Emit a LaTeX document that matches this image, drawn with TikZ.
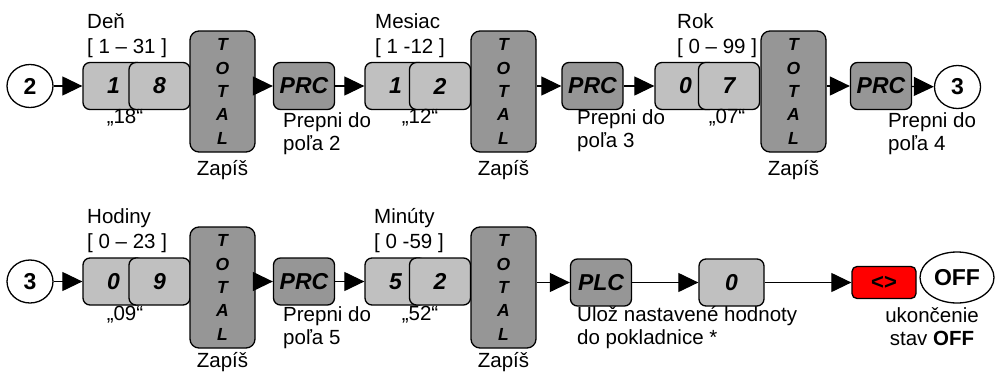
\documentclass[tikz,border=0pt]{standalone}
\usepackage{fontspec}
\setmainfont{Liberation Sans}
\usetikzlibrary{arrows.meta,positioning,shapes.geometric}
\definecolor{keylight}{HTML}{C0C0C0}
\definecolor{keydark}{HTML}{969696}

\begin{document}
\begin{tikzpicture}[x=1pt, y=-1pt,
  lbl/.style={font=\fontsize{20.5}{23}\selectfont, inner sep=0pt},
  key/.style={draw, line width=1.3pt, rounded corners=7pt, fill=keylight, minimum width=61pt, minimum height=47pt, inner sep=0pt, font=\fontsize{23}{26}\selectfont\bfseries\itshape},
  keyd/.style={key, fill=keydark},
  totalkey/.style={keyd, minimum width=65pt, minimum height=121pt, rounded corners=9pt, align=center, font=\fontsize{17.5}{23.3}\selectfont\bfseries\itshape},
  conn/.style={draw, ellipse, line width=1.3pt, fill=white, minimum width=46pt, minimum height=43pt, inner sep=0pt, font=\fontsize{23}{26}\selectfont\bfseries},
  arr/.style={-{Triangle[length=20pt,width=19pt]}, line width=1.2pt}]
\useasboundingbox (0,0) rectangle (995,372);

% row 1: datum
\node[conn] (c2) at (30,86) {2};
\node[key] (dA1) at (113.5,86) {1};
\node[key] (dA2) at (159.5,86) {8};
\node[totalkey] (totA) at (222.5,91.5) {T\\O\\T\\A\\L};
\node[keyd] (prcA) at (304,86) {PRC};
\node[key] (mB1) at (395.5,86) {1};
\node[key] (mB2) at (440,86) {2};
\node[totalkey] (totB) at (503.5,91.5) {T\\O\\T\\A\\L};
\node[keyd] (prcB) at (592.5,86) {PRC};
\node[key] (yC1) at (685.5,86) {0};
\node[key] (yC2) at (729,86) {7};
\node[totalkey] (totC) at (793.5,91.5) {T\\O\\T\\A\\L};
\node[keyd] (prcC) at (881,86) {PRC};
\node[conn] (c3a) at (957.5,87) {3};

\draw[arr] (c2) -- (dA1);
\draw[arr] (totA.east |- prcA) -- (prcA);
\draw[arr] (prcA) -- (mB1);
\draw[arr] (totB.east |- prcB) -- (prcB);
\draw[arr] (prcB) -- (yC1);
\draw[arr] (totC.east |- prcC) -- (prcC);
\draw[arr] (prcC) -- (c3a);

\node[lbl, anchor=west, align=left] (lDen) at (87,35.5) {Deň\\[2pt]{[ 1 – 31 ]}};
\node[lbl] (qA) at (125,118) {„18“};
\node[lbl, below=8pt of totA] (zA) {Zapíš};
\node[lbl, anchor=west, align=left] (pA) at (283,133.5) {Prepni do\\poľa 2};
\node[lbl, anchor=west, align=left] (lMes) at (375,35.5) {Mesiac\\[2pt]{[ 1 -12 ]}};
\node[lbl] (qB) at (420,118) {„12“};
\node[lbl, below=8pt of totB] (zB) {Zapíš};
\node[lbl, anchor=west, align=left] (pB) at (577,131) {Prepni do\\poľa 3};
\node[lbl, anchor=west, align=left] (lRok) at (677,35.5) {Rok\\[2pt]{[ 0 – 99 ]}};
\node[lbl] (qC) at (727,118) {„07“};
\node[lbl, below=8pt of totC] (zC) {Zapíš};
\node[lbl, anchor=west, align=left] (pC) at (888,133.5) {Prepni do\\poľa 4};

% row 2: cas
\node[conn] (c3b) at (30,281.5) {3};
\node[key] (hA1) at (113.5,281.5) {0};
\node[key] (hA2) at (159.5,281.5) {9};
\node[totalkey] (totH) at (222.5,287.5) {T\\O\\T\\A\\L};
\node[keyd] (prcH) at (304,281.5) {PRC};
\node[key] (nB1) at (395.5,281.5) {5};
\node[key] (nB2) at (440,281.5) {2};
\node[totalkey] (totN) at (503.5,287.5) {T\\O\\T\\A\\L};
\node[keyd] (plc) at (601,282.5) {PLC};
\node[key, minimum width=65pt] (zero) at (731.5,282.5) {0};
\node[key, fill=red, minimum width=64pt, minimum height=32pt, rounded corners=5pt, font=\fontsize{22}{24}\selectfont\bfseries] (clr) at (884,282.5) {\raisebox{-3pt}{<>}};
\node[conn, minimum width=74pt, minimum height=51pt] (off) at (957,277.5) {OFF};

\draw[arr] (c3b) -- (hA1);
\draw[arr] (totH.east |- prcH) -- (prcH);
\draw[arr] (prcH) -- (nB1);
\draw[arr] (totN.east |- plc) -- (plc);
\draw[arr] (plc) -- (zero);
\draw[arr] (zero) -- (clr);

\node[lbl, anchor=west, align=left] (lHod) at (87,230.5) {Hodiny\\[2pt]{[ 0 – 23 ]}};
\node[lbl] (qH) at (125,315) {„09“};
\node[lbl, below=4pt of totH] (zH) {Zapíš};
\node[lbl, anchor=west, align=left] (pH) at (283,327.5) {Prepni do\\poľa 5};
\node[lbl, anchor=west, align=left] (lMin) at (374,230.5) {Minúty\\[2pt]{[ 0 -59 ]}};
\node[lbl] (qN) at (420,315) {„52“};
\node[lbl, below=4pt of totN] (zN) {Zapíš};
\node[lbl, anchor=west, align=left] (uloz) at (577,327.5) {Ulož nastavené hodnoty\\do pokladnice *};
\node[lbl, align=center] (konec) at (932,326.5) {ukončenie\\stav \textbf{OFF}};
\end{tikzpicture}
\end{document}
